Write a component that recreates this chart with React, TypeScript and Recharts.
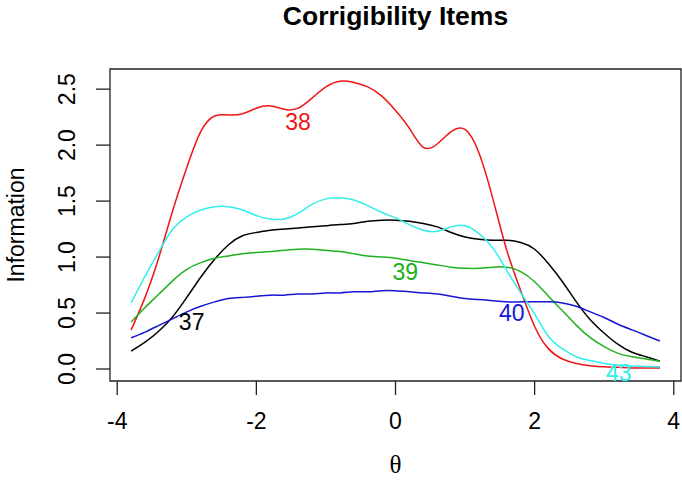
import {
  LineChart,
  Line,
  XAxis,
  YAxis,
  ReferenceArea,
  ReferenceDot,
} from "recharts";

// theta grid and item information curves
const theta = [
  -3.8, -3.6, -3.4, -3.2, -3.0, -2.8, -2.6, -2.4, -2.2, -2.0, -1.8, -1.6, -1.4,
  -1.2, -1.0, -0.8, -0.6, -0.4, -0.2, 0, 0.2, 0.4, 0.6, 0.8, 1.0, 1.2, 1.4, 1.6,
  1.8, 2.0, 2.2, 2.4, 2.6, 2.8, 3.0, 3.2, 3.4, 3.6, 3.8,
];

const item37 = [
  0.16, 0.24, 0.34, 0.47, 0.64, 0.82, 0.98, 1.11, 1.19, 1.22, 1.24, 1.25, 1.26,
  1.27, 1.28, 1.29, 1.3, 1.32, 1.33, 1.33, 1.32, 1.3, 1.27, 1.22, 1.18, 1.16,
  1.15, 1.15, 1.13, 1.07, 0.94, 0.78, 0.6, 0.44, 0.32, 0.22, 0.15, 0.11, 0.07,
];

const item38 = [
  0.35, 0.64, 1.0, 1.42, 1.8, 2.12, 2.26, 2.27, 2.28, 2.33, 2.35, 2.32, 2.33,
  2.42, 2.52, 2.57, 2.56, 2.52, 2.44, 2.31, 2.15, 1.98, 2.01, 2.12, 2.14, 1.93,
  1.52, 1.06, 0.7, 0.38, 0.18, 0.09, 0.05, 0.03, 0.02, 0.015, 0.01, 0.01, 0.01,
];

const item39 = [
  0.42, 0.55, 0.67, 0.79, 0.89, 0.95, 0.99, 1.01, 1.03, 1.04, 1.05, 1.06, 1.07,
  1.07, 1.06, 1.05, 1.03, 1.01, 1.0, 0.99, 0.97, 0.95, 0.93, 0.91, 0.9, 0.9,
  0.91, 0.91, 0.87, 0.78, 0.65, 0.52, 0.39, 0.28, 0.2, 0.14, 0.11, 0.09, 0.07,
];

const item40 = [
  0.28, 0.33, 0.39, 0.45, 0.51, 0.56, 0.6, 0.63, 0.64, 0.65, 0.66, 0.66, 0.67,
  0.67, 0.68, 0.68, 0.69, 0.69, 0.7, 0.7, 0.69, 0.68, 0.67, 0.65, 0.63, 0.62,
  0.61, 0.6, 0.6, 0.6, 0.6, 0.59, 0.56, 0.51, 0.46, 0.4, 0.35, 0.3, 0.25,
];

const item43 = [
  0.59, 0.83, 1.05, 1.25, 1.36, 1.42, 1.45, 1.45, 1.42, 1.37, 1.34, 1.34, 1.39,
  1.47, 1.52, 1.53, 1.51, 1.46, 1.4, 1.35, 1.29, 1.24, 1.23, 1.27, 1.28, 1.21,
  1.08, 0.88, 0.68, 0.49, 0.29, 0.18, 0.11, 0.075, 0.05, 0.035, 0.027, 0.022,
  0.02,
];

const xTicks = [-4, -2, 0, 2, 4];
const yTicks = [0, 0.5, 1.0, 1.5, 2.0, 2.5];

// curve labels (text placed in data coordinates, like R's text())
const labelNames = ["37", "38", "39", "40", "43"];
const labelTheta = [-2.93, -1.4, 0.14, 1.67, 3.21];
const labelInfo = [0.42, 2.21, 0.87, 0.505, -0.036];

const X_MIN = -4.104;
const X_MAX = 4.104;
const Y_MIN = -0.107;
const Y_MAX = 2.68;

const series = [
  { key: "i37", values: item37, color: "#000000" },
  { key: "i38", values: item38, color: "#f01414" },
  { key: "i39", values: item39, color: "#20b020" },
  { key: "i40", values: item40, color: "#1515d5" },
  { key: "i43", values: item43, color: "#30eeee" },
];

const rows = theta.map((t, i) => {
  const row: any = { theta: t };
  series.forEach((s) => {
    row[s.key] = s.values[i];
  });
  return row;
});

const FONT = "'Liberation Sans', Arial, Helvetica, sans-serif";

const YTick = ({ x, y, payload }: any) => (
  <text
    x={x}
    y={y}
    transform={`rotate(-90, ${x}, ${y})`}
    textAnchor="middle"
    fontSize={23}
    fill="#000"
  >
    {Number(payload.value).toFixed(1)}
  </text>
);

export default function App() {
  return (
    <div
      style={{
        position: "absolute",
        left: 0,
        top: 0,
        width: 682,
        height: 491,
        background: "#fff",
        fontFamily: FONT,
      }}
    >
      <LineChart
        width={682}
        height={491}
        data={rows}
        margin={{ top: 69, right: 1, bottom: 0, left: 0 }}
      >
        <XAxis
          type="number"
          dataKey="theta"
          domain={[X_MIN, X_MAX]}
          allowDataOverflow
          ticks={xTicks}
          height={110}
          tickSize={14}
          tickMargin={18}
          axisLine={false}
          tickLine={{ stroke: "#222", strokeWidth: 1.3 }}
          tick={{ fill: "#000", fontSize: 23 }}
        />
        <YAxis
          type="number"
          domain={[Y_MIN, Y_MAX]}
          allowDataOverflow
          ticks={yTicks}
          width={110}
          tickSize={14}
          tickMargin={21}
          axisLine={false}
          tickLine={{ stroke: "#222", strokeWidth: 1.3 }}
          tick={<YTick />}
        />

        {/* plot box */}
        <ReferenceArea
          x1={X_MIN}
          x2={X_MAX}
          y1={Y_MIN}
          y2={Y_MAX}
          fill="none"
          fillOpacity={0}
          stroke="#222"
          strokeWidth={1.3}
          ifOverflow="visible"
        />

        {series.map((s) => (
          <Line
            key={s.key}
            type="natural"
            dataKey={s.key}
            stroke={s.color}
            strokeWidth={1.5}
            dot={false}
            activeDot={false}
            isAnimationActive={false}
          />
        ))}

        {labelNames.map((name, i) => (
          <ReferenceDot
            key={name}
            x={labelTheta[i]}
            y={labelInfo[i]}
            r={0}
            fill="none"
            stroke="none"
            ifOverflow="hidden"
            label={{
              value: name,
              position: "center",
              fill: series[i].color,
              fontSize: 23,
            }}
          />
        ))}
      </LineChart>

      <svg
        width={682}
        height={491}
        style={{ position: "absolute", left: 0, top: 0, pointerEvents: "none" }}
      >
        <text
          x={395.5}
          y={25}
          textAnchor="middle"
          fontWeight="bold"
          fontSize={26.5}
          fill="#000"
        >
          Corrigibility Items
        </text>
        <text
          transform="translate(24,225) rotate(-90)"
          textAnchor="middle"
          fontSize={23}
          fill="#000"
        >
          Information
        </text>
        <text
          x={395.5}
          y={473}
          textAnchor="middle"
          fontSize={25}
          fontFamily="'Liberation Serif', 'DejaVu Serif', serif"
          fill="#000"
        >
          θ
        </text>
      </svg>
    </div>
  );
}
